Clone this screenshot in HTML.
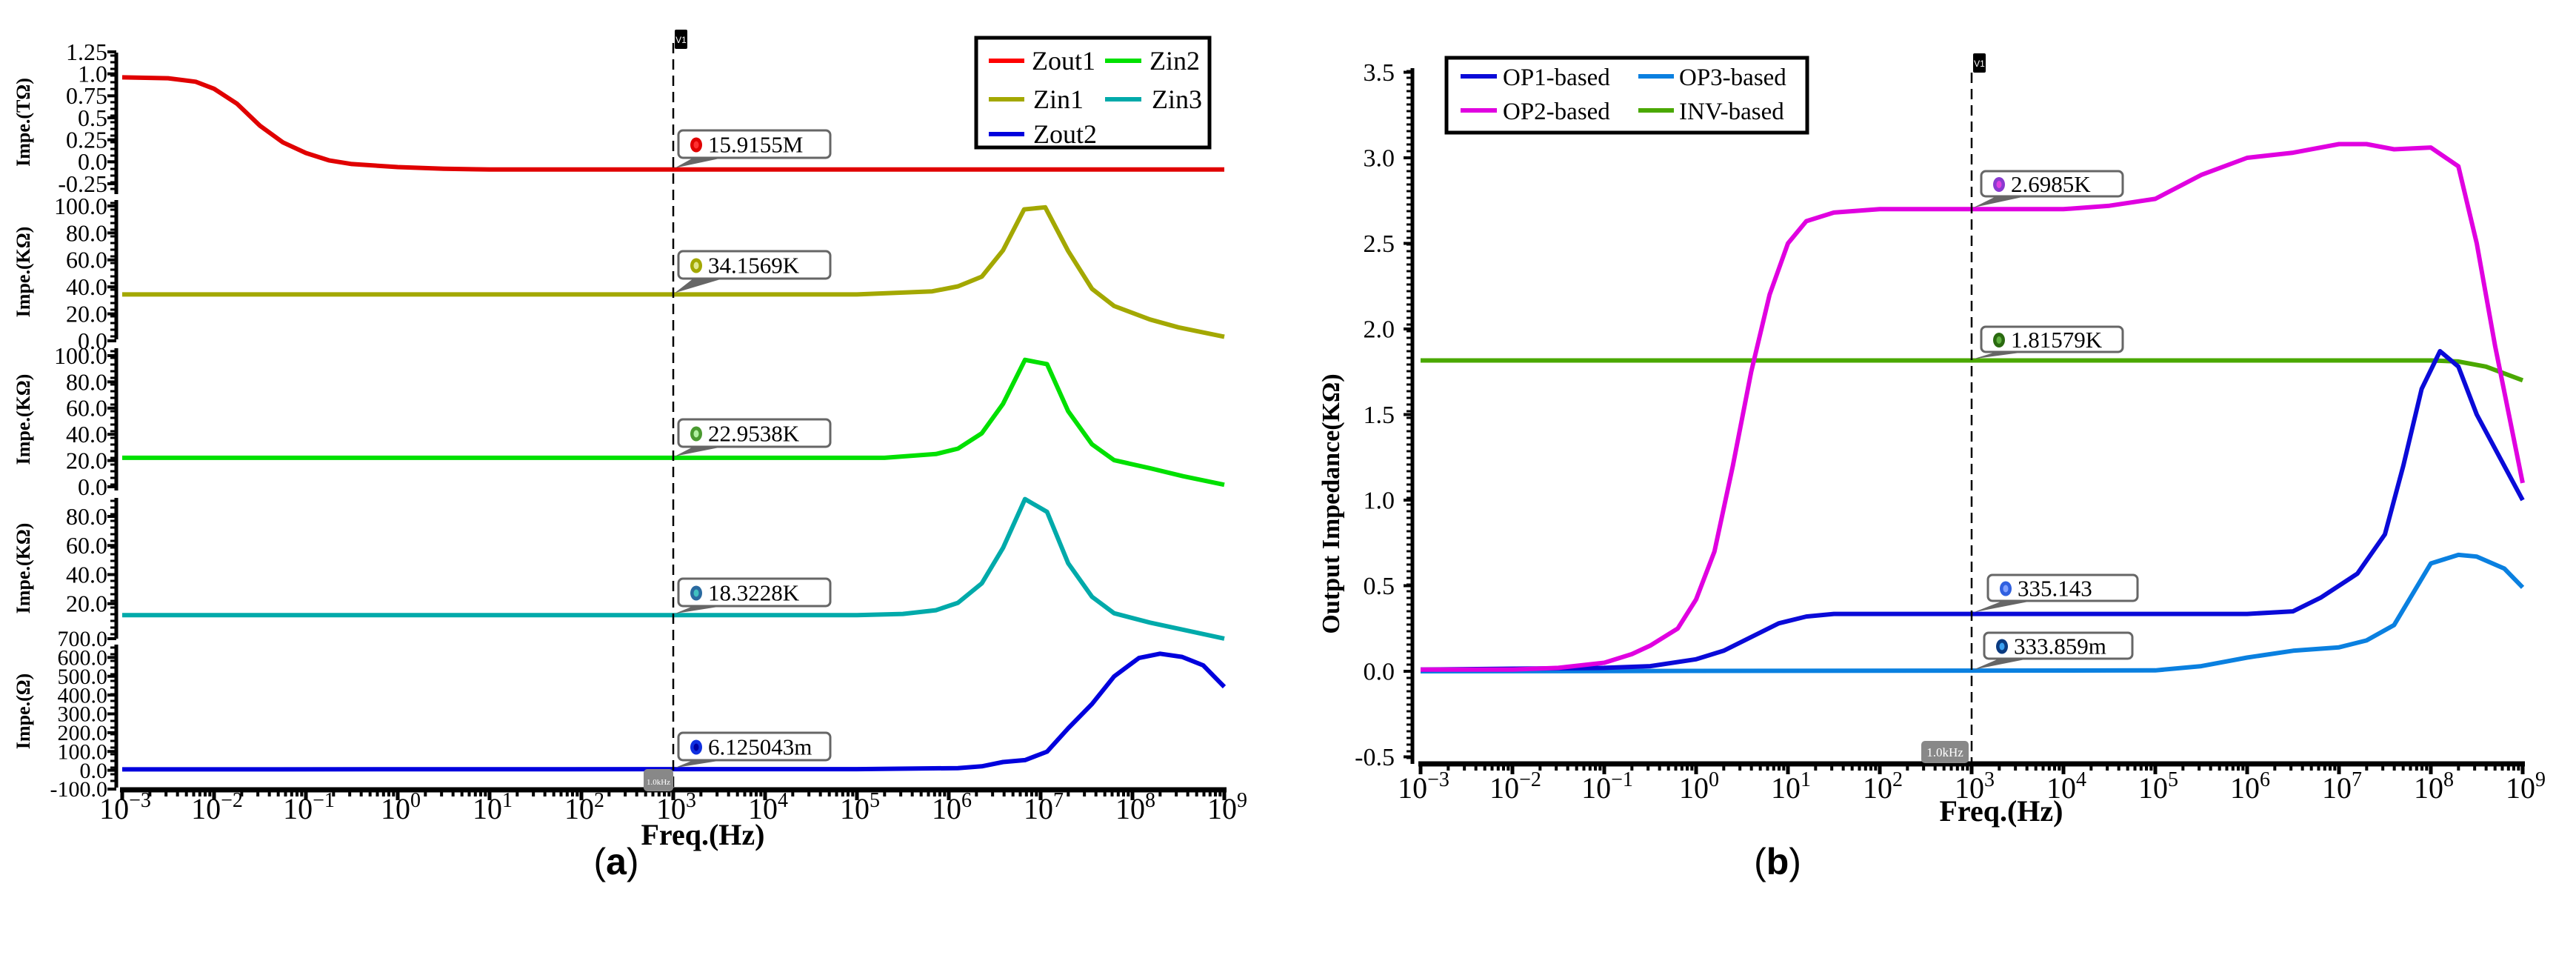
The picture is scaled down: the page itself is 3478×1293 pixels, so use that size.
<!DOCTYPE html>
<html><head><meta charset="utf-8">
<style>
html,body{margin:0;padding:0;background:#fff;}
svg{display:block;font-family:"Liberation Serif",serif;}
</style></head>
<body>
<svg id="fig" width="3478" height="1293" viewBox="0 0 3478 1293" xmlns="http://www.w3.org/2000/svg">
<rect x="0" y="0" width="3478" height="1293" fill="#fff"/>
<g id="pa"></g>
<g id="pb"></g>
</svg>
<script>
// ---------- data (log10 frequency, value) ----------
const zout1F = [-3,-2.5,-2.2,-2,-1.75,-1.5,-1.25,-1,-0.75,-0.5,0,0.5,1,9];
const zout1V = [0.96,0.95,0.91,0.83,0.66,0.41,0.22,0.10,0.016,-0.026,-0.06,-0.08,-0.088,-0.088];
const zin1F = [-3,5,5.82,6.1,6.36,6.59,6.82,7.05,7.3,7.56,7.8,8.19,8.5,9];
const zin1V = [34.4,34.4,36.7,40.4,47.6,67.1,97.5,99,66.6,38.5,25.8,15.8,10,3];
const zin2F = [-3,5.3,5.86,6.1,6.36,6.59,6.83,7.07,7.3,7.56,7.8,8.19,8.55,9];
const zin2V = [22.1,22.1,25,29.1,40.8,63.2,96.8,93.5,57.6,32.4,20.3,14.2,8.1,1.5];
const zin3F = [-3,5,5.5,5.86,6.1,6.36,6.59,6.83,7.07,7.3,7.56,7.8,8.19,9];
const zin3V = [12.1,12.1,12.96,15.5,20.6,34,58.3,91.9,83.1,47.8,24.7,13.4,7,-4];
const zout2F = [-3,5,6.1,6.36,6.59,6.83,7.07,7.3,7.56,7.8,8.07,8.3,8.54,8.77,9];
const zout2V = [5,6,11.5,21,44,54,99,223,353,499,597,620,603,558,444];

const op1F = [-3,-1,-0.5,0,0.3,0.6,0.9,1.2,1.5,2,6,6.5,6.8,7.2,7.5,7.7,7.9,8.1,8.3,8.5,9];
const op1V = [0.01,0.02,0.03,0.07,0.12,0.2,0.28,0.32,0.335,0.335,0.335,0.35,0.43,0.57,0.8,1.2,1.65,1.87,1.78,1.5,1.0];
const op2F = [-3,-2,-1.5,-1,-0.7,-0.5,-0.2,0,0.2,0.4,0.6,0.8,1,1.2,1.5,2,3,4,4.5,5,5.5,6,6.5,7,7.3,7.6,8,8.3,8.5,8.7,9];
const op2V = [0.01,0.01,0.02,0.05,0.1,0.15,0.25,0.42,0.7,1.2,1.75,2.2,2.5,2.63,2.68,2.7,2.7,2.7,2.72,2.76,2.9,3.0,3.03,3.08,3.08,3.05,3.06,2.95,2.5,1.9,1.1];
const op3F = [-3,5,5.5,6,6.5,7,7.3,7.6,8,8.3,8.5,8.8,9];
const op3V = [0,0.005,0.03,0.08,0.12,0.14,0.18,0.27,0.63,0.68,0.67,0.6,0.49];
const invF = [-3,8,8.3,8.6,9];
const invV = [1.816,1.816,1.81,1.78,1.7];

const decadeLabels = ['-3','-2','-1','0','1','2','3','4','5','6','7','8','9'];
const ticksA1 = ['1.25','1.0','0.75','0.5','0.25','0.0','-0.25'];
const ticksA2 = ['100.0','80.0','60.0','40.0','20.0','0.0'];
const ticksA4 = ['80.0','60.0','40.0','20.0'];
const ticksA5 = ['700.0','600.0','500.0','400.0','300.0','200.0','100.0','0.0','-100.0'];
const ticksB = ['3.5','3.0','2.5','2.0','1.5','1.0','0.5','0.0','-0.5'];

const NS='http://www.w3.org/2000/svg';
function mk(parent,tag,attrs,text){const e=document.createElementNS(NS,tag);for(const k in attrs)e.setAttribute(k,attrs[k]);if(text!==undefined)e.textContent=text;parent.appendChild(e);return e;}
function xScale(x0,x1){return f=>x0+(f+3)/12*(x1-x0);}
function yScale(v0,p0,v1,p1){return v=>p0+(v-v0)/(v1-v0)*(p1-p0);}
function line(g,F,V,X,Y,color,name){
  const p=mk(g,'polyline',{points:F.map((f,i)=>X(f).toFixed(1)+','+Y(V[i]).toFixed(1)).join(' '),fill:'none',stroke:color,'stroke-width':6,'stroke-linejoin':'round'});
  
  
}
function yTicks(g,Y,labels,axisX,lx,size,topY,botY,name){
  const ax=mk(g,'line',{x1:axisX,y1:topY,x2:axisX,y2:botY,stroke:'#000','stroke-width':5});
  
  
  for(let y=topY+4;y<botY;y+=9){mk(g,'line',{x1:axisX-8,y1:y,x2:axisX,y2:y,stroke:'#000','stroke-width':3});}
  labels.forEach(l=>{const v=parseFloat(l);const y=Y(v);
    mk(g,'line',{x1:axisX-12,y1:y,x2:axisX,y2:y,stroke:'#000','stroke-width':4});
    const t=mk(g,'text',{x:lx,y:y+size*0.34,'text-anchor':'end','font-size':size},l);
    
    
  });
}
function xAxis(g,X,y,labY,name){
  const ax=mk(g,'line',{x1:X(-3)-3,y1:y,x2:X(9)+3,y2:y,stroke:'#000','stroke-width':7});
  
  
  for(let d=-3;d<=9;d++){
    mk(g,'line',{x1:X(d),y1:y,x2:X(d),y2:y+14,stroke:'#000','stroke-width':5});
    if(d<9)for(let m=2;m<10;m++){const xx=X(d+Math.log10(m));mk(g,'line',{x1:xx,y1:y,x2:xx,y2:y+9,stroke:'#000','stroke-width':4});}
  }
  decadeLabels.forEach(s=>{const d=parseInt(s);
    const t=mk(g,'text',{x:X(d)+4,y:labY,'text-anchor':'middle','font-size':40});
    
    
    mk(t,'tspan',{},'10');
    mk(t,'tspan',{dy:-16,'font-size':28},(d<0?'\u2212'+(-d):''+d));
  });
}
function callout(g,px,py,bx,by,bw,bh,color,inner,text,name){
  const gg=mk(g,'g',{});
  
  
  mk(gg,'polygon',{points:`${px+2},${py-2} ${bx+20},${by+bh} ${bx+60},${by+bh}`,fill:'#666'});
  mk(gg,'rect',{x:bx,y:by,width:bw,height:bh,rx:6,fill:'#fff',stroke:'#666','stroke-width':3});
  mk(gg,'ellipse',{cx:bx+24,cy:by+bh/2+1,rx:8,ry:10,fill:color});
  mk(gg,'ellipse',{cx:bx+24,cy:by+bh/2+1,rx:3.5,ry:5,fill:inner});
  mk(gg,'text',{x:bx+40,y:by+bh/2+11,'font-size':31},text);
}
function cursor(g,x,top,bot,tagY,kbx,kby,kbw,name){
  const l=mk(g,'line',{x1:x,y1:top,x2:x,y2:bot,stroke:'#000','stroke-width':2.5,'stroke-dasharray':'14,8'});
  
  
  const r=mk(g,'rect',{x:x+2,y:tagY,width:17,height:26,rx:2,fill:'#000'});
  
  
  mk(g,'text',{x:x+10.5,y:tagY+18,'font-size':12,fill:'#fff','text-anchor':'middle','font-family':'Liberation Sans'},'V1');
  const k=mk(g,'rect',{x:kbx,y:kby,width:kbw,height:30,rx:5,fill:'#888'});
  
  
  mk(g,'text',{x:kbx+kbw/2,y:kby+21,'font-size':kbw>50?17:11,fill:'#fff','text-anchor':'middle'},'1.0kHz');
}
function legend(g,x,y,w,h,items,name){
  const gg=mk(g,'g',{});
  
  
  mk(gg,'rect',{x:x,y:y,width:w,height:h,fill:'#fff',stroke:'#000','stroke-width':5});
  items.forEach(it=>{
    const e=mk(gg,'g',{});
    
    
    mk(e,'line',{x1:it[0],y1:it[1],x2:it[2],y2:it[1],stroke:it[3],'stroke-width':6});
    mk(e,'text',{x:it[4],y:it[1]+12,'font-size':it[6]},it[5]);
  });
}
function ytitle(g,x,y,size,txt,name){
  const t=mk(g,'text',{x:x,y:y,'font-size':size,'font-weight':'bold','text-anchor':'middle',transform:`rotate(-90 ${x} ${y})`},txt);
  
  
}

// ---------- panel a ----------
const A=document.getElementById('pa');
const XA=xScale(165,1653);
const Y1=yScale(1.25,70,-0.25,248), Y2=yScale(100,278,0,460), Y3=yScale(100,480,0,657), Y4=yScale(80,697,0,854), Y5=yScale(700,862,-100,1065);
yTicks(A,Y1,ticksA1,157,145,32,71,262,'a1');
yTicks(A,Y2,ticksA2,157,145,32,270,458,'a2');
yTicks(A,Y3,ticksA2,157,145,32,470,662,'a3');
yTicks(A,Y4,ticksA4,157,145,32,672,862,'a4');
yTicks(A,Y5,ticksA5,157,145,30,870,1063,'a5');
ytitle(A,40,165,26,'Impe.(TΩ)','a1-y-axis-title');
ytitle(A,40,367,26,'Impe.(KΩ)','a2-y-axis-title');
ytitle(A,40,566,26,'Impe.(KΩ)','a3-y-axis-title');
ytitle(A,40,767,26,'Impe.(KΩ)','a4-y-axis-title');
ytitle(A,40,960,26,'Impe.(Ω)','a5-y-axis-title');
xAxis(A,XA,1066,1105,'a');
const ta=mk(A,'text',{x:XA(3)+40,y:1140,'font-size':40,'font-weight':'bold','text-anchor':'middle'},'Freq.(Hz)');


line(A,zout1F,zout1V,XA,Y1,'#e00000','zout1-line');
line(A,zin1F,zin1V,XA,Y2,'#a3a800','zin1-line');
line(A,zin2F,zin2V,XA,Y3,'#00e000','zin2-line');
line(A,zin3F,zin3V,XA,Y4,'#00aaaa','zin3-line');
line(A,zout2F,zout2V,XA,Y5,'#0000dd','zout2-line');
cursor(A,XA(3),58,1066,40,869,1038,40,'a');
callout(A,XA(3),Y1(-0.088),916,176,205,37,'#e00000','#ff3030','15.9155M','zout1-readout');
callout(A,XA(3),Y2(34.4),916,339,205,37,'#a3a800','#e0e890','34.1569K','zin1-readout');
callout(A,XA(3),Y3(22.1),916,566,205,37,'#4a9a30','#b0f0a0','22.9538K','zin2-readout');
callout(A,XA(3),Y4(12.1),916,781,205,37,'#2a6aa0','#40c0c0','18.3228K','zin3-readout');
callout(A,XA(3),Y5(5),916,989,205,37,'#1030e0','#0000a0','6.125043m','zout2-readout');
legend(A,1318,51,315,148,[
 [1335,82,1383,'#ff0000',1393,'Zout1',36],[1492,82,1541,'#00e000',1552,'Zin2',36],
 [1335,134,1383,'#a3a800',1395,'Zin1',36],[1492,134,1541,'#00aaaa',1555,'Zin3',36],
 [1335,181,1383,'#0000dd',1395,'Zout2',36]],'legend-a');
const la=mk(A,'text',{x:832,y:1180,'font-size':50,'text-anchor':'middle','font-family':'Liberation Sans'});


mk(la,'tspan',{},'(');mk(la,'tspan',{'font-weight':'bold'},'a');mk(la,'tspan',{},')');

// ---------- panel b ----------
const B=document.getElementById('pb');
const XB=xScale(1918,3406);
const YB=yScale(0,906,3.5,97.5);
yTicks(B,YB,ticksB,1907,1883,34,92,1031,'b');
ytitle(B,1808,680,34,'Output Impedance(KΩ)','b-y-axis-title');
xAxis(B,XB,1031,1077,'b');
const tb=mk(B,'text',{x:XB(3)+40,y:1108,'font-size':40,'font-weight':'bold','text-anchor':'middle'},'Freq.(Hz)');


line(B,invF,invV,XB,YB,'#4aa800','inv-based-line');
line(B,op3F,op3V,XB,YB,'#0a80e0','op3-based-line');
line(B,op1F,op1V,XB,YB,'#0a0ad8','op1-based-line');
line(B,op2F,op2V,XB,YB,'#e000e0','op2-based-line');
cursor(B,XB(3),98,1031,72,2594,1000,64,'b');
callout(B,XB(3),YB(2.7),2675,231,191,34,'#8a3ad0','#e040e0','2.6985K','op2-readout');
callout(B,XB(3),YB(1.816),2675,441,191,34,'#2a6a10','#60b040','1.81579K','inv-readout');
callout(B,XB(3),YB(0.335),2684,776,202,35,'#3060e0','#80a0ff','335.143','op1-readout');
callout(B,XB(3),YB(0),2679,854,200,35,'#0a3a80','#3aa0f0','333.859m','op3-readout');
legend(B,1953,78,487,101,[
 [1972,103,2021,'#0a0ad8',2029,'OP1-based',33],[2212,103,2260,'#0a80e0',2267,'OP3-based',33],
 [1972,149,2021,'#e000e0',2029,'OP2-based',33],[2212,149,2260,'#4aa800',2267,'INV-based',33]],'legend-b');
const lb=mk(B,'text',{x:2400,y:1180,'font-size':50,'text-anchor':'middle','font-family':'Liberation Sans'});


mk(lb,'tspan',{},'(');mk(lb,'tspan',{'font-weight':'bold'},'b');mk(lb,'tspan',{},')');
</script>
</body></html>
